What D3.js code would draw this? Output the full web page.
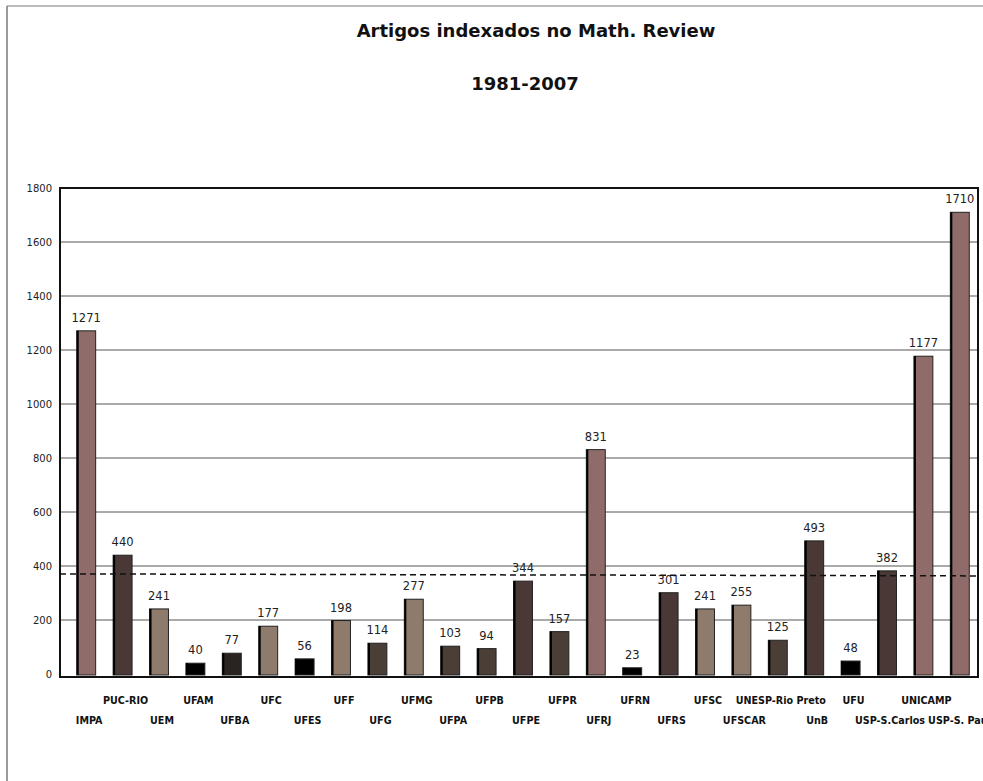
<!DOCTYPE html>
<html>
<head>
<meta charset="utf-8">
<script src="https://cdn.jsdelivr.net/npm/d3@7"></script>
<style>
  body { margin: 0; background: #fff; }
  svg { display: block; font-family: "DejaVu Sans", sans-serif; }
</style>
</head>
<body>
<div id="chart"></div>
<script>
const institutions = [
  "IMPA", "PUC-RIO", "UEM", "UFAM", "UFBA", "UFC", "UFES", "UFF", "UFG",
  "UFMG", "UFPA", "UFPB", "UFPE", "UFPR", "UFRJ", "UFRN", "UFRS", "UFSC",
  "UFSCAR", "UNESP-Rio Preto", "UnB", "UFU", "USP-S.Carlos", "UNICAMP",
  "USP-S. Paulo",
];
const articles = [
  1271, 440, 241, 40, 77, 177, 56, 198, 114, 277, 103, 94, 344, 157, 831,
  23, 301, 241, 255, 125, 493, 48, 382, 1177, 1710,
];
const yTicks = [0, 200, 400, 600, 800, 1000, 1200, 1400, 1600, 1800];
const averageLine = 367;

// fill colour of each bar, same order as institutions
const barColors = [
  "#8f6c6a", "#4a3836", "#8f7b6c", "#000000", "#2a2321", "#8f7b6c",
  "#000000", "#8f7b6c", "#4a3e37", "#8f7b6c", "#4a3e37", "#4a3e37",
  "#4a3836", "#4a3e37", "#8f6c6a", "#000000", "#4a3836", "#8f7b6c",
  "#8f7b6c", "#4a3e37", "#4a3836", "#000000", "#4a3836", "#8f6c6a",
  "#8f6c6a",
];

const data = institutions.map((name, i) => ({
  name,
  value: articles[i],
  color: barColors[i],
}));

const svgWidth = 983;
const svgHeight = 781;
const frame = { left: 60, right: 978, top: 188, bottom: 677 };

const svg = d3
  .select("#chart")
  .append("svg")
  .attr("width", svgWidth)
  .attr("height", svgHeight);

// page border (top + left)
svg
  .append("line")
  .attr("x1", 7)
  .attr("x2", 983)
  .attr("y1", 6)
  .attr("y2", 6)
  .attr("stroke", "#bcbcbc")
  .attr("stroke-width", 2);
svg
  .append("line")
  .attr("x1", 7)
  .attr("x2", 7)
  .attr("y1", 6)
  .attr("y2", svgHeight)
  .attr("stroke", "#7a7a7a")
  .attr("stroke-width", 1.5);

// titles
svg
  .append("text")
  .attr("x", 536)
  .attr("y", 37)
  .attr("text-anchor", "middle")
  .attr("font-size", 18)
  .attr("font-weight", "bold")
  .attr("fill", "#111")
  .text("Artigos indexados no Math. Review");
svg
  .append("text")
  .attr("x", 525)
  .attr("y", 90)
  .attr("text-anchor", "middle")
  .attr("font-size", 18)
  .attr("font-weight", "bold")
  .attr("fill", "#111")
  .text("1981-2007");

const xScale = d3
  .scaleBand()
  .domain(institutions)
  .range([68, 978])
  .paddingInner(0.48)
  .paddingOuter(0.24);

const yScale = d3.scaleLinear().domain([0, 1800]).range([674, 188]);

// gridlines
svg
  .selectAll("line.grid")
  .data(yTicks.filter((t) => t > 0 && t < 1800))
  .enter()
  .append("line")
  .attr("class", "grid")
  .attr("x1", frame.left)
  .attr("x2", frame.right)
  .attr("y1", (d) => yScale(d))
  .attr("y2", (d) => yScale(d))
  .attr("stroke", "#555")
  .attr("stroke-width", 1);

// y axis labels
const yAxis = d3
  .axisLeft(yScale)
  .tickValues(yTicks)
  .tickFormat(d3.format("d"))
  .tickSize(0)
  .tickPadding(8);
const yAxisG = svg
  .append("g")
  .attr("transform", `translate(${frame.left},0)`)
  .call(yAxis);
yAxisG.select(".domain").remove();
yAxisG
  .selectAll("text")
  .attr("font-family", "DejaVu Sans")
  .attr("font-size", 10)
  .attr("fill", "#222");

// bars
const barWidth = xScale.bandwidth();
svg
  .selectAll("rect.bar")
  .data(data)
  .enter()
  .append("rect")
  .attr("class", "bar")
  .attr("x", (d) => xScale(d.name))
  .attr("y", (d) => yScale(d.value))
  .attr("width", barWidth)
  .attr("height", (d) => yScale(0) + 1 - yScale(d.value))
  .attr("fill", (d) => d.color)
  .attr("stroke", "#222")
  .attr("stroke-width", 1);

// darker left edge on each bar
svg
  .selectAll("line.edge")
  .data(data)
  .enter()
  .append("line")
  .attr("class", "edge")
  .attr("x1", (d) => xScale(d.name) + 1)
  .attr("x2", (d) => xScale(d.name) + 1)
  .attr("y1", (d) => yScale(d.value))
  .attr("y2", yScale(0) + 1)
  .attr("stroke", "#000")
  .attr("stroke-width", 2);

// value labels
svg
  .selectAll("text.value")
  .data(data)
  .enter()
  .append("text")
  .attr("class", "value")
  .attr("x", (d) => xScale(d.name) + barWidth / 2)
  .attr("y", (d) => yScale(d.value) - 9)
  .attr("text-anchor", "middle")
  .attr("font-size", 11.5)
  .attr("fill", "#222")
  .text((d) => d.value);

// average dashed line
svg
  .append("line")
  .attr("x1", frame.left)
  .attr("x2", frame.right)
  .attr("y1", yScale(averageLine) - 1)
  .attr("y2", yScale(averageLine) + 1)
  .attr("stroke", "#111")
  .attr("stroke-width", 1.5)
  .attr("stroke-dasharray", "6,4");

// plot frame
svg
  .append("rect")
  .attr("x", frame.left)
  .attr("y", frame.top)
  .attr("width", frame.right - frame.left)
  .attr("height", frame.bottom - frame.top)
  .attr("fill", "none")
  .attr("stroke", "#111")
  .attr("stroke-width", 2);

// category labels in two staggered rows
svg
  .selectAll("text.cat")
  .data(data)
  .enter()
  .append("text")
  .attr("class", "cat")
  .attr("x", (d) => xScale(d.name) + barWidth / 2 + 3)
  .attr("y", (d, i) => (i % 2 === 1 ? 704 : 724))
  .attr("text-anchor", "middle")
  .attr("font-size", 9.6)
  .attr("font-weight", "bold")
  .attr("fill", "#111")
  .text((d) => d.name);
</script>
</body>
</html>
